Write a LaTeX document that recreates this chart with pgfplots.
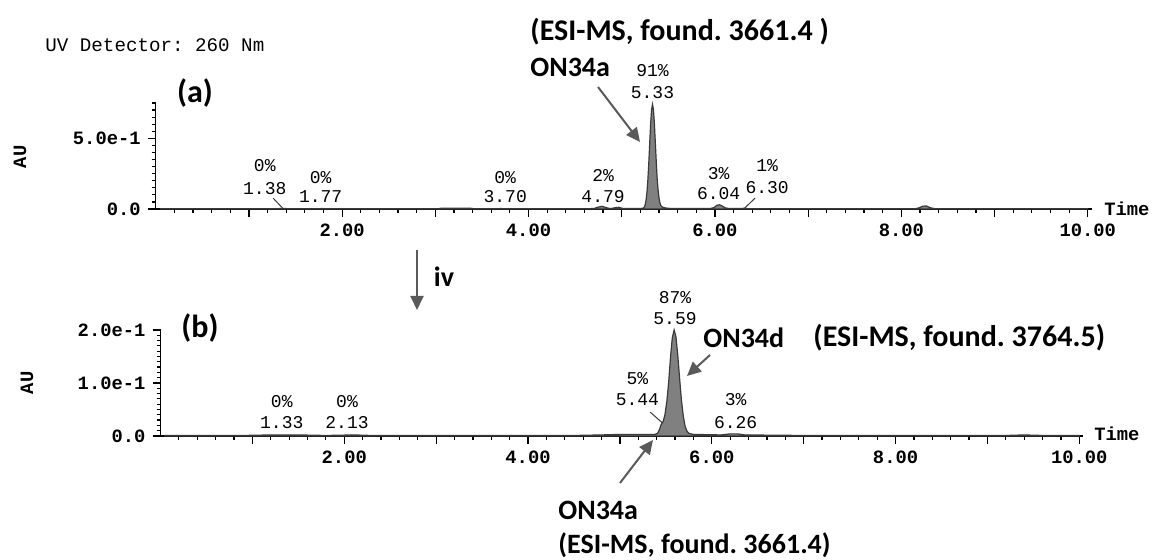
\documentclass[border=0pt]{standalone}
\usepackage{fontspec}
\setmainfont{Carlito}
\newfontfamily\mono{Liberation Mono}
\usepackage{pgfplots}
\pgfplotsset{compat=1.18}
\usetikzlibrary{arrows.meta}

\definecolor{peakfill}{HTML}{808080}
\definecolor{trace}{HTML}{3A3A3A}
\definecolor{arrowgray}{HTML}{5A5A5A}

\pgfplotsset{
  chrom/.style={
    scale only axis,
    axis x line=bottom, axis y line=left,
    axis line style={-, black, line width=0.7pt},
    xmin=0, xmax=10.04, ymin=0, clip=false,
    xtick={1,...,10},
    xticklabels={,2.00,,4.00,,6.00,,8.00,,10.00},
    minor xtick={0.2,0.4,...,9.8},
    tick align=outside,
    major tick length=4pt, minor tick length=2pt,
    tick style={black, line width=0.6pt},
    ticklabel style={font=\mono\bfseries\fontsize{9.4}{10}\selectfont},
  },
}
\tikzset{ann/.style={font=\bfseries\fontsize{14}{16}\selectfont, inner sep=0pt, anchor=west},
  annl/.style={ann, font=\bfseries\fontsize{15}{17}\selectfont},
  pct/.style={font=\mono\fontsize{9}{10}\selectfont, inner sep=0pt},
  garrow/.style={draw=arrowgray, line width=1pt, -{Triangle[length=7pt,width=6.5pt]}}}

\begin{document}
\frenchspacing
\begin{tikzpicture}
\path[use as bounding box] (0,0) rectangle (576.5pt,280pt);

% ---- panel (a)
\begin{axis}[chrom, at={(77.85pt,175.5pt)}, anchor=south west,
    width=467.9pt, height=53pt, ymax=0.75,
    ytick={0,0.5}, yticklabels={0.0,5.0e-1},
    minor ytick={0.05,0.1,...,0.75}]
\addplot[fill=peakfill, draw=trace, line width=0.6pt] coordinates {
(0.05,0.002)(0.9,0.002)(1.3,0.002)(1.36,0.004)(1.42,0.002)(1.74,0.002)(1.78,0.003)(1.84,0.002)
(3.03,0.002)(3.06,0.005)(3.38,0.005)(3.41,0.002)(3.66,0.002)(3.70,0.003)(3.76,0.002)
(4.60,0.002)(4.70,0.003)(4.74,0.012)(4.79,0.019)(4.84,0.008)(4.88,0.003)(4.93,0.009)(4.97,0.012)(5.01,0.004)
(5.18,0.003)(5.21,0.004)(5.23,0.006)(5.24,0.011)(5.25,0.026)(5.26,0.058)(5.27,0.114)(5.28,0.202)
(5.29,0.322)(5.30,0.463)(5.31,0.601)(5.32,0.702)(5.33,0.74)(5.34,0.705)(5.35,0.61)(5.36,0.475)
(5.37,0.34)(5.38,0.215)(5.39,0.135)(5.40,0.075)(5.41,0.042)(5.42,0.024)(5.44,0.012)(5.47,0.007)
(5.52,0.004)(5.65,0.003)(5.95,0.003)(5.99,0.010)(6.02,0.026)(6.05,0.030)(6.08,0.020)(6.11,0.008)
(6.15,0.003)(6.28,0.003)(6.31,0.005)(6.36,0.002)(8.15,0.002)(8.19,0.008)(8.23,0.020)(8.27,0.021)
(8.31,0.009)(8.36,0.002)(10.0,0.002)
} \closedcycle;
% peak labels
\node[pct] at (axis cs:1.17,0.310) {0\%};
\node[pct] at (axis cs:1.17,0.148) {1.38};
\node[pct] at (axis cs:1.77,0.225) {0\%};
\node[pct] at (axis cs:1.77,0.085) {1.77};
\node[pct] at (axis cs:3.75,0.225) {0\%};
\node[pct] at (axis cs:3.75,0.085) {3.70};
\node[pct] at (axis cs:4.80,0.239) {2\%};
\node[pct] at (axis cs:4.80,0.085) {4.79};
\node[pct] at (axis cs:5.33,0.979) {91\%};
\node[pct] at (axis cs:5.33,0.824) {5.33};
\node[pct] at (axis cs:6.04,0.254) {3\%};
\node[pct] at (axis cs:6.04,0.106) {6.04};
\node[pct] at (axis cs:6.56,0.310) {1\%};
\node[pct] at (axis cs:6.56,0.155) {6.30};
\draw[trace, line width=0.5pt] (axis cs:1.26,0.077) -- (axis cs:1.37,0.0);
\draw[trace, line width=0.5pt] (axis cs:6.43,0.077) -- (axis cs:6.31,0.0);
\end{axis}

% ---- panel (b)
\begin{axis}[chrom, at={(80.25pt,62pt)}, anchor=south west,
    width=461.25pt, height=53pt, ymax=0.2,
    ytick={0,0.1,0.2}, yticklabels={0.0,1.0e-1,2.0e-1},
    minor ytick={0.01,0.02,...,0.19}]
\addplot[fill=peakfill, draw=trace, line width=0.6pt] coordinates {
(0.05,0.001)(0.9,0.001)(1.2,0.002)(1.5,0.002)(1.8,0.001)(2.1,0.002)(2.3,0.001)(4.5,0.001)
(4.8,0.002)(5.0,0.003)(5.2,0.003)(5.38,0.003)(5.41,0.005)(5.43,0.012)(5.45,0.022)(5.47,0.027)
(5.49,0.040)(5.51,0.064)(5.53,0.100)(5.55,0.147)(5.57,0.185)(5.59,0.200)(5.61,0.187)(5.63,0.152)
(5.65,0.108)(5.67,0.067)(5.69,0.037)(5.71,0.018)(5.73,0.009)(5.75,0.005)(5.80,0.003)(6.1,0.002)
(6.2,0.004)(6.28,0.004)(6.36,0.002)(7.0,0.001)(9.2,0.001)(9.4,0.002)(9.6,0.001)(10.0,0.001)
} \closedcycle;
\node[pct] at (axis cs:1.32,0.064) {0\%};
\node[pct] at (axis cs:1.32,0.0245) {1.33};
\node[pct] at (axis cs:2.03,0.064) {0\%};
\node[pct] at (axis cs:2.03,0.0245) {2.13};
\node[pct] at (axis cs:5.60,0.262) {87\%};
\node[pct] at (axis cs:5.60,0.221) {5.59};
\node[pct] at (axis cs:5.19,0.109) {5\%};
\node[pct] at (axis cs:5.19,0.068) {5.44};
\node[pct] at (axis cs:6.26,0.068) {3\%};
\node[pct] at (axis cs:6.26,0.026) {6.26};
\draw[trace, line width=0.5pt] (axis cs:5.33,0.045) -- (axis cs:5.46,0.025);
\end{axis}

% ---- texts and arrows (picture coordinates, 1 px = 0.5 pt)
\node[font=\mono\fontsize{9.6}{11}\selectfont, inner sep=0pt, anchor=west] at (22.5pt,257.5pt) {UV Detector: 260 Nm};
\node[font=\mono\bfseries\fontsize{9.4}{10}\selectfont, rotate=90, inner sep=0pt] at (10pt,201.5pt) {AU};
\node[font=\mono\bfseries\fontsize{9.4}{10}\selectfont, rotate=90, inner sep=0pt] at (13.5pt,88.5pt) {AU};
\node[font=\mono\bfseries\fontsize{9.4}{10}\selectfont, inner sep=0pt, anchor=west] at (552pt,175.5pt) {Time};
\node[font=\mono\bfseries\fontsize{9.4}{10}\selectfont, inner sep=0pt, anchor=west] at (547pt,63pt) {Time};
\node[font=\bfseries\fontsize{16}{18}\selectfont, inner sep=0pt] at (97.5pt,233.5pt) {(a)};
\node[font=\bfseries\fontsize{16}{18}\selectfont, inner sep=0pt] at (100pt,116pt) {(b)};
\node[annl] at (265pt,264pt) {(ESI-MS, found. 3661.4 )};
\node[ann] at (265pt,246.5pt) {ON34a};
\draw[garrow] (299pt,236.5pt) -- (320pt,209pt);
\draw[garrow] (208.5pt,155pt) -- (208.5pt,125pt);
\node[font=\bfseries\fontsize{14}{16}\selectfont, inner sep=0pt] at (222pt,141.5pt) {iv};
\node[ann] at (351.5pt,111pt) {ON34d};
\node[annl] at (406.5pt,111pt) {(ESI-MS, found. 3764.5)};
\draw[garrow] (355pt,102.5pt) -- (343.5pt,92pt);
\draw[garrow] (310pt,38.5pt) -- (326.5pt,60pt);
\node[ann] at (279pt,25pt) {ON34a};
\node[ann] at (279pt,7.5pt) {(ESI-MS, found. 3661.4)};
\end{tikzpicture}
\end{document}
